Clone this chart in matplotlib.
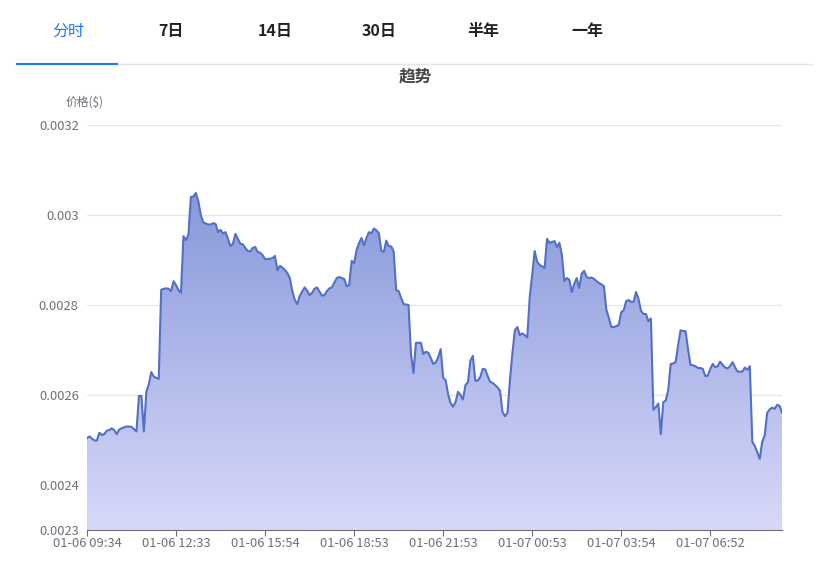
import numpy as np
import matplotlib
matplotlib.use("Agg")
import matplotlib.pyplot as plt
from matplotlib.colors import LinearSegmentedColormap

plt.rcParams["font.family"] = ["Noto Sans CJK SC", "DejaVu Sans"]

# price samples (USD), one per category slot on the x axis
prices = [
    0.002504, 0.002508, 0.002503, 0.002499, 0.002499, 0.002516, 0.002511, 0.002513, 0.002521, 0.002522,
    0.002526, 0.002522, 0.002513, 0.002523, 0.002526, 0.002528, 0.002530, 0.002530, 0.002529, 0.002524,
    0.002519, 0.002598, 0.002598, 0.002519, 0.002607, 0.002624, 0.002651, 0.002641, 0.002638, 0.002636,
    0.002834, 0.002836, 0.002837, 0.002836, 0.002831, 0.002853, 0.002844, 0.002833, 0.002827, 0.002953,
    0.002944, 0.002956, 0.003040, 0.003041, 0.003049, 0.003031, 0.003000, 0.002984, 0.002981, 0.002979,
    0.002979, 0.002982, 0.002980, 0.002962, 0.002967, 0.002959, 0.002962, 0.002947, 0.002931, 0.002936,
    0.002958, 0.002947, 0.002936, 0.002935, 0.002927, 0.002920, 0.002919, 0.002927, 0.002929, 0.002918,
    0.002916, 0.002911, 0.002902, 0.002902, 0.002903, 0.002904, 0.002909, 0.002877, 0.002887, 0.002883,
    0.002878, 0.002871, 0.002860, 0.002831, 0.002812, 0.002802, 0.002820, 0.002830, 0.002839, 0.002832,
    0.002822, 0.002827, 0.002836, 0.002839, 0.002830, 0.002821, 0.002822, 0.002831, 0.002837, 0.002839,
    0.002850, 0.002860, 0.002862, 0.002860, 0.002858, 0.002842, 0.002844, 0.002898, 0.002893, 0.002922,
    0.002938, 0.002949, 0.002933, 0.002949, 0.002962, 0.002959, 0.002970, 0.002966, 0.002960, 0.002920,
    0.002918, 0.002943, 0.002931, 0.002930, 0.002919, 0.002833, 0.002831, 0.002816, 0.002802, 0.002801,
    0.002800, 0.002691, 0.002649, 0.002716, 0.002716, 0.002716, 0.002691, 0.002696, 0.002694, 0.002682,
    0.002669, 0.002672, 0.002684, 0.002702, 0.002638, 0.002633, 0.002602, 0.002582, 0.002574, 0.002584,
    0.002607, 0.002600, 0.002590, 0.002622, 0.002628, 0.002676, 0.002687, 0.002632, 0.002632, 0.002640,
    0.002658, 0.002657, 0.002642, 0.002629, 0.002627, 0.002622, 0.002617, 0.002609, 0.002562, 0.002553,
    0.002560, 0.002633, 0.002693, 0.002744, 0.002751, 0.002733, 0.002737, 0.002733, 0.002728, 0.002818,
    0.002867, 0.002920, 0.002896, 0.002889, 0.002886, 0.002882, 0.002947, 0.002938, 0.002940, 0.002942,
    0.002929, 0.002938, 0.002911, 0.002853, 0.002860, 0.002856, 0.002829, 0.002847, 0.002860, 0.002838,
    0.002869, 0.002876, 0.002862, 0.002860, 0.002861, 0.002858, 0.002853, 0.002849, 0.002846, 0.002842,
    0.002789, 0.002771, 0.002751, 0.002751, 0.002753, 0.002756, 0.002784, 0.002788, 0.002809, 0.002811,
    0.002807, 0.002807, 0.002829, 0.002813, 0.002787, 0.002780, 0.002780, 0.002764, 0.002770, 0.002567,
    0.002573, 0.002581, 0.002513, 0.002584, 0.002588, 0.002611, 0.002669, 0.002670, 0.002673, 0.002711,
    0.002744, 0.002742, 0.002742, 0.002702, 0.002667, 0.002666, 0.002664, 0.002660, 0.002660, 0.002658,
    0.002642, 0.002643, 0.002658, 0.002669, 0.002662, 0.002664, 0.002674, 0.002667, 0.002661, 0.002659,
    0.002664, 0.002673, 0.002662, 0.002652, 0.002652, 0.002652, 0.002661, 0.002656, 0.002664, 0.002496,
    0.002487, 0.002473, 0.002458, 0.002496, 0.002510, 0.002560, 0.002568, 0.002572, 0.002569, 0.002578,
    0.002576, 0.002561,
]
tick_labels = ["01-06 09:34", "01-06 12:33", "01-06 15:54", "01-06 18:53",
               "01-06 21:53", "01-07 00:53", "01-07 03:54", "01-07 06:52"]
label_step = 36
tabs = ["分时", "7日", "14日", "30日", "半年", "一年"]
y_ticks = [0.0023, 0.0024, 0.0026, 0.0028, 0.003, 0.0032]
y_tick_text = ["0.0023", "0.0024", "0.0026", "0.0028", "0.003", "0.0032"]

AXIS_GRAY = "#6e7079"
LINE_BLUE = "#5470c6"

fig = plt.figure(figsize=(8.34, 5.63), dpi=100)
fig.patch.set_facecolor("white")
ax = fig.add_axes([87 / 834, 33 / 563, 695 / 834, 405 / 563])

x = np.arange(len(prices))
y = np.array(prices)
y0, y1 = 0.0023, 0.0032

# gradient area under the line
poly = ax.fill_between(x, y, y0, color="none", linewidth=0)
cmap = LinearSegmentedColormap.from_list("area", ["#d8d9fa", "#8799da"])
grad = np.linspace(0, 1, 256).reshape(-1, 1)
img = ax.imshow(grad, cmap=cmap, aspect="auto", origin="lower",
                extent=[0, len(prices) - 1, y0, y.max()], zorder=2)
img.set_clip_path(poly.get_paths()[0], transform=ax.transData)
ax.plot(x, y, color=LINE_BLUE, linewidth=1.5, zorder=3, solid_joinstyle="round")

ax.set_xlim(0, len(prices) - 1)
ax.set_ylim(y0, y1)
ax.set_yticks(y_ticks)
ax.set_yticklabels(y_tick_text)
for t in y_ticks[1:]:
    ax.axhline(t, color="#e0e6f1", linewidth=0.8, zorder=1)

ticks = list(range(0, len(prices), label_step))[:len(tick_labels)]
ax.set_xticks(ticks)
ax.set_xticklabels(tick_labels)
ax.tick_params(axis="x", length=4, color=AXIS_GRAY, labelcolor=AXIS_GRAY,
               labelsize=9.3, pad=1)
ax.tick_params(axis="y", length=0, labelcolor=AXIS_GRAY, labelsize=9.3, pad=6)
for s in ["top", "right", "left"]:
    ax.spines[s].set_visible(False)
ax.spines["bottom"].set_color(AXIS_GRAY)
ax.spines["bottom"].set_zorder(4)

# header tabs
tab_x = [68, 171, 275, 379, 483, 587]
for i, (name, tx) in enumerate(zip(tabs, tab_x)):
    if i == 0:
        fig.text(tx / 834, 1 - 31 / 563, name, ha="center", va="center",
                 fontsize=11.5, color="#1677ff")
    else:
        fig.text(tx / 834, 1 - 31 / 563, name, ha="center", va="center",
                 fontsize=11.5, color="#222222", fontweight="bold")
fig.add_artist(plt.Line2D([117 / 834, 812 / 834], [1 - 64 / 563] * 2,
                          color="#e4e4e4", linewidth=1))
fig.add_artist(plt.Line2D([17 / 834, 117 / 834], [1 - 63.5 / 563] * 2,
                          color="#1677ff", linewidth=1.5))

fig.text(415 / 834, 1 - 77 / 563, "趋势", ha="center", va="center",
         fontsize=12, fontweight="bold", color="#464646")
fig.text(85 / 834, 1 - 102 / 563, "价格($)", ha="center", va="center",
         fontsize=8.5, color=AXIS_GRAY)

fig.savefig("out.png", dpi=100)
